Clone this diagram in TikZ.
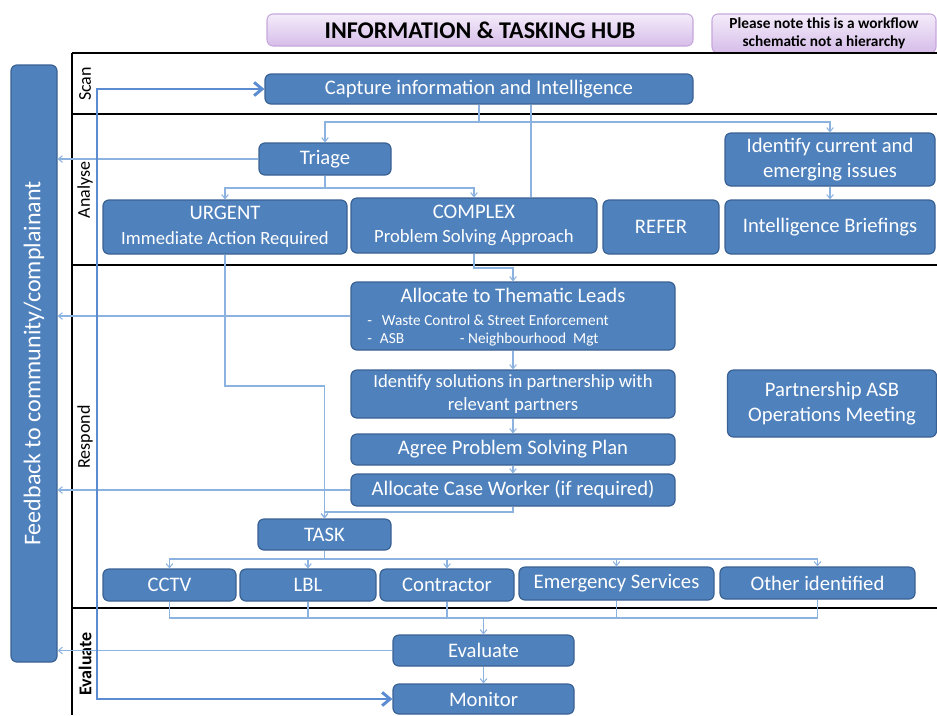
\documentclass[tikz,border=0pt]{standalone}
\usepackage{fontspec}
\setmainfont{Carlito}
\usetikzlibrary{arrows.meta}
\definecolor{boxblue}{HTML}{4F81BD}
\definecolor{boxedge}{HTML}{3A6193}
\definecolor{linkblue}{HTML}{8CB2E0}
\definecolor{loopblue}{HTML}{5B8BD0}
\definecolor{hubtop}{HTML}{F4ECFA}
\definecolor{hubbottom}{HTML}{D6BDE9}
\definecolor{hubedge}{HTML}{C6A7DC}
\def\boxfont{\fontsize{15.5}{18.5}\selectfont}
\def\twofont{\fontsize{14}{18.5}\selectfont}
\tikzset{
	box/.style={draw=boxedge, fill=boxblue, line width=0.9pt, rounded corners=4.5pt, text=white, font=\boxfont, align=center, inner sep=1pt},
	hub/.style={draw=hubedge, top color=hubtop, bottom color=hubbottom, line width=0.8pt, rounded corners=4.5pt, align=center, inner sep=1pt},
	lane/.style={draw=black, line width=1.6pt},
	lanelabel/.style={rotate=90, font=\fontsize{13.5}{13.5}\selectfont, inner sep=0pt},
	link/.style={draw=linkblue, line width=0.8pt},
	linkto/.style={link, -{Straight Barb[length=3pt,width=5pt]}},
	loopline/.style={draw=loopblue, line width=2.2pt, {Straight Barb[length=6pt,width=10pt]}-{Straight Barb[length=6pt,width=10pt]}}
}

\begin{document}
\begin{tikzpicture}[x=0.75pt, y=-0.75pt]
			%%%%% START %%%%%
			\useasboundingbox (0,0) rectangle (937,715);
			
			% header
			\node[hub, minimum width=319.5pt, minimum height=24pt, font=\fontsize{18}{18}\selectfont\bfseries] (title) at (480,30) {INFORMATION \& TASKING HUB};
			\node[hub, minimum width=168pt, minimum height=29.25pt, font=\fontsize{11.5}{13.5}\selectfont\bfseries] (note) at (824,33.5) {Please note this is a workflow\\schematic not a hierarchy};
			
			% lanes
			\draw[lane] (72,53) -- (937,53);
			\draw[lane] (72,114) -- (937,114);
			\draw[lane] (72,265) -- (937,265);
			\draw[lane] (72,608) -- (937,608);
			\draw[lane] (72,53) -- (72,715);
			
			\node[lanelabel] (scan) at (85,84) {Scan};
			\node[lanelabel] (analyse) at (85,190) {Analyse};
			\node[lanelabel] (respond) at (85,437) {Respond};
			\node[lanelabel, font=\fontsize{13.5}{13.5}\selectfont\bfseries] (evallane) at (85,664) {Evaluate};
			
			% feedback column
			\node[box, rotate=90, minimum width=447.75pt, minimum height=34.5pt, font=\fontsize{18}{18}\selectfont] (fb) at (34,363.5) {Feedback to community/complainant};
			
			% scan
			\node[box, minimum width=321pt, minimum height=22.5pt] (cap) at (479,89) {Capture information and Intelligence};
			
			% analyse
			\node[box, minimum width=99pt, minimum height=24pt] (triage) at (325,159) {Triage};
			\node[box, minimum width=157.5pt, minimum height=39.75pt] (ident) at (830,159.5) {Identify current and\\emerging issues};
			\node[box, minimum width=183pt, minimum height=40.5pt, font=\twofont] (urgent) at (225,227) {{\boxfont URGENT}\\Immediate Action Required};
			\node[box, minimum width=184.5pt, minimum height=41.25pt, font=\twofont] (complex) at (474,225.5) {{\boxfont COMPLEX}\\Problem Solving Approach};
			\node[box, minimum width=87pt, minimum height=40.5pt] (refer) at (661,227) {REFER};
			\node[box, minimum width=157.5pt, minimum height=40.5pt] (brief) at (830,227) {Intelligence Briefings};
			
			% respond
			\node[box, minimum width=243pt, minimum height=51pt] (thematic) at (513,316) {};
			\node[text=white, font=\boxfont, anchor=base, inner sep=0pt] (thematichead) at (513,302) {Allocate to Thematic Leads};
			\node[text=white, font=\fontsize{11.5}{11.5}\selectfont, anchor=base west, inner sep=0pt] (thematicone) at (367,325) {\rlap{-}\hspace{11pt}Waste Control \& Street Enforcement};
			\node[text=white, font=\fontsize{11.5}{11.5}\selectfont, anchor=base west, inner sep=0pt] (thematictwo) at (367,343) {\rlap{-}\hspace{9.5pt}\rlap{ASB}\hspace{60pt}- Neighbourhood\ \ Mgt};
			\node[box, minimum width=243pt, minimum height=36pt, font=\fontsize{14}{17}\selectfont] (solutions) at (513,394) {Identify solutions in partnership with\\relevant partners};
			\node[box, minimum width=243pt, minimum height=23.25pt] (agree) at (513,449.5) {Agree Problem Solving Plan};
			\node[box, minimum width=243pt, minimum height=24pt] (caseworker) at (513,490) {Allocate Case Worker (if required)};
			\node[box, minimum width=156.75pt, minimum height=50.25pt] (partner) at (832,403.5) {Partnership ASB\\Operations Meeting};
			
			\node[box, minimum width=99.75pt, minimum height=23.25pt] (task) at (324.5,534.5) {TASK};
			\node[box, minimum width=99.75pt, minimum height=24pt] (cctv) at (169.5,585) {CCTV};
			\node[box, minimum width=102pt, minimum height=24pt] (lbl) at (308,585) {LBL};
			\node[box, minimum width=100.5pt, minimum height=24pt] (contr) at (447,585) {Contractor};
			\node[box, minimum width=146.25pt, minimum height=24.75pt] (emerg) at (616.5,583.5) {Emergency Services};
			\node[box, minimum width=146.25pt, minimum height=24pt] (other) at (817.5,583) {Other identified};
			
			% evaluate
			\node[box, minimum width=135.75pt, minimum height=23.25pt] (evaluate) at (483.5,650.5) {Evaluate};
			\node[box, minimum width=135.75pt, minimum height=22.5pt] (monitor) at (483.5,699) {Monitor};
			
			% connectors
			\coordinate (capsplit) at (479,122);
			\draw[link] (cap.south) -- (capsplit);
			\draw[linkto] (capsplit) -| (triage.north);
			\draw[linkto] (capsplit) -| (ident.north);
			\coordinate (capdrop) at (531,0);
			\draw[link] (cap.south -| capdrop) -- (complex.north -| capdrop);
			
			\coordinate (trisplit) at (325,188);
			\draw[link] (triage.south) -- (trisplit);
			\draw[linkto] (trisplit) -| (urgent.north);
			\draw[linkto] (trisplit) -| (complex.north);
			\draw[linkto] (ident.south) -- (brief.north);
			
			\coordinate (urgbend) at (225,386);
			\draw[linkto] (urgent.south) -- (urgbend) -| (task.north);
			\coordinate (cxbend) at (474,268);
			\draw[linkto] (complex.south) -- (cxbend) -| (thematic.north);
			\draw[linkto] (thematic.south) -- (solutions.north);
			\draw[linkto] (solutions.south) -- (agree.north);
			\draw[linkto] (agree.south) -- (caseworker.north);
			\coordinate (cwbend) at (513,512);
			\draw[linkto] (caseworker.south) -- (cwbend) -| (task.north);
			
			\coordinate (tasksplit) at (324.5,559);
			\draw[link] (task.south) -- (tasksplit);
			\foreach \t in {cctv,lbl,contr,emerg,other}
				\draw[linkto] (tasksplit) -| (\t.north);
			\coordinate (evalmerge) at (483.5,618);
			\foreach \t in {cctv,lbl,contr,emerg,other}
				\draw[link] (\t.south) |- (evalmerge);
			\draw[linkto] (evalmerge) -- (evaluate.north);
			\draw[linkto] (evaluate.south) -- (monitor.north);
			
			% back to feedback
			\foreach \t in {triage,thematic,caseworker,evaluate}
				\draw[linkto] (\t.west) -- (\t.west -| fb.south);
			
			% monitor loop
			\coordinate (loopx) at (97,0);
			\draw[loopline] (monitor.west) -- (monitor.west -| loopx) -- (cap.west -| loopx) -- (cap.west);
			
			%%%%% END %%%%%
		\end{tikzpicture}
\end{document}
